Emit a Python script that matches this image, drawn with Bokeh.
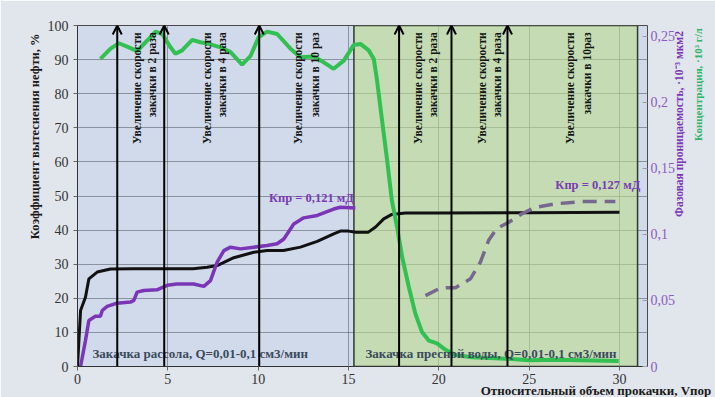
import numpy as np
from bokeh.plotting import figure
from bokeh.models import Range1d, LinearAxis, FixedTicker, Arrow, OpenHead, Title, ColumnDataSource
from bokeh.core.properties import value
from bokeh.embed import file_html
from bokeh.resources import INLINE

# ---- data ----
black_x = [0, 0.17, 0.44, 0.63, 1.09, 1.83, 3.0, 4.5, 6.4, 7.18, 7.73, 8.65, 9.76, 10.5, 11.4, 12.34,
           13.27, 14.18, 14.55, 15.0, 15.4, 16.1, 16.5, 16.95, 17.4, 18.15, 20, 25, 30]
black_y = [0, 16.4, 20.3, 25.7, 27.7, 28.6, 28.7, 28.7, 28.7, 29.1, 29.6, 31.9, 33.5, 34.0, 34.0, 35.0,
           36.7, 38.9, 39.7, 39.7, 39.4, 39.4, 40.9, 43.3, 44.6, 45.0, 45.0, 45.1, 45.2]

green_x = [1.27, 1.83, 2.29, 2.84, 3.3, 3.86, 4.32, 4.69, 5.15, 5.42, 5.79, 6.35, 6.8, 7.27, 7.91, 8.47,
           9.11, 9.57, 10.03, 10.5, 11.05, 11.79, 12.34, 13.08, 13.63, 14.18, 14.74, 15.29, 15.66, 16.12,
           16.4, 16.58, 16.86, 17.14, 17.4, 17.69, 17.97, 18.34, 18.7, 19.07, 19.44, 19.9, 20.37, 20.92,
           21.84, 23.69, 24.98, 26.45, 29.96]
green_y = [90.2, 93.2, 94.8, 93.6, 92.5, 95.6, 98.2, 97.5, 93.6, 91.7, 92.7, 95.8, 95.1, 94.6, 93.6, 92.2,
           88.5, 91.0, 96.6, 98.2, 97.5, 93.2, 90.7, 90.9, 89.2, 87.3, 89.7, 94.3, 94.6, 92.7,
           90.2, 83.9, 72.1, 60.4, 48.7, 40.9, 32.1, 23.3, 15.5, 10.1, 7.6, 6.8, 4.9, 3.4,
           2.7, 2.3, 1.8, 2.0, 1.6]

perm_x = [0.17, 0.44, 0.63, 0.99, 1.27, 1.37, 1.64, 2.19, 2.93, 3.12, 3.3, 3.67, 4.4, 4.96, 5.5, 6.43,
          6.99, 7.36, 7.73, 8.1, 8.47, 9.02, 9.76, 10.5, 11.05, 11.42, 11.97, 12.52, 13.27, 14.18, 14.55, 15.38]
perm_y = [0, 0.0196, 0.0349, 0.038, 0.038, 0.0424, 0.0455, 0.048, 0.0488, 0.0501, 0.0563, 0.0576, 0.0581,
          0.0615, 0.0625, 0.0625, 0.0607, 0.0651, 0.079, 0.0878, 0.0904, 0.0891, 0.0904, 0.0917, 0.093,
          0.0966, 0.108, 0.1126, 0.1144, 0.1193, 0.1206, 0.1201]

perm2_x = [19.26, 20.0, 20.46, 20.92, 21.75, 22.3, 22.76, 23.2, 23.87, 24.6, 25.35, 26.45, 27.93, 29.77]
perm2_y = [0.0537, 0.0589, 0.0597, 0.0597, 0.0664, 0.079, 0.0956, 0.1044, 0.1093, 0.1157, 0.1206,
           0.1232, 0.125, 0.125]

arrow_x = [2.2, 4.8, 10.06, 17.8, 20.7, 23.8]
ann_line1 = ["Увеличение скорости"] * 6
ann_line2 = ["закачки в 2 раза", "закачки в 4 раза", "закачки в 10 раз",
             "закачки в 2 раза", "закачки в 4 раза", "закачки в 10раз"]
ann_x1 = [3.32, 7.19, 12.23, 18.82, 22.41, 27.28]
ann_x2 = [4.15, 8.02, 13.17, 19.70, 23.24, 28.22]

fresh_start, fresh_end = 15.3, 31.0

x_ticks = [0, 5, 10, 15, 20, 25, 30]
y_ticks = [0, 10, 20, 30, 40, 50, 60, 70, 80, 90, 100]
r_ticks = [0, 0.05, 0.1, 0.15, 0.2, 0.25]
r_tick_labels = ["0", "0,05", "0,1", "0,15", "0,2", "0,25"]

SERIF = "Liberation Serif"
NB = "\u00a0"

p = figure(width=715, height=397, output_backend="svg", toolbar_location=None,
           x_range=Range1d(0, 31.55), y_range=Range1d(0, 100),
           min_border_left=77, min_border_right=68, min_border_top=25, min_border_bottom=31)
p.extra_y_ranges = {"perm": Range1d(0, 0.2583)}

p.background_fill_color = "#d0daea"
p.border_fill_color = "#e1e5ec"
p.outline_line_color = "#4a4a4a"
p.outline_line_width = 1

# grid
p.xgrid.ticker = FixedTicker(ticks=x_ticks)
p.ygrid.ticker = FixedTicker(ticks=y_ticks)
p.grid.grid_line_color = "#4f5860"
p.grid.grid_line_alpha = 0.55
p.grid.grid_line_width = 1

# axes
for ax in (p.xaxis[0], p.yaxis[0]):
    ax.major_label_text_font = SERIF
    ax.major_label_text_font_size = "14px"
    ax.major_label_text_color = "#333333"
    ax.axis_line_color = "#333333"
    ax.major_tick_line_color = "#666666"
    ax.major_tick_in = 0
    ax.major_tick_out = 4
    ax.minor_tick_line_color = None
p.xaxis.ticker = FixedTicker(ticks=x_ticks)
p.yaxis.ticker = FixedTicker(ticks=y_ticks)
p.xaxis.major_label_standoff = 3
p.yaxis.major_label_standoff = 5

rax = LinearAxis(y_range_name="perm", ticker=FixedTicker(ticks=r_ticks))
rax.major_label_overrides = {t: s for t, s in zip(r_ticks, r_tick_labels)}
rax.major_label_text_font = SERIF
rax.major_label_text_font_size = "14px"
rax.major_label_text_color = "#8a5cc2"
rax.axis_line_color = None
rax.major_tick_in = 5
rax.major_tick_out = 0
rax.major_tick_line_color = "#9aa0a8"
rax.minor_tick_line_color = None
rax.major_label_standoff = 3
p.add_layout(rax, "right")

# ---- axis titles ----
lt = Title(text="Коэффициент вытеснения нефти, %", align="right", offset=8,
           text_font=SERIF, text_font_style="bold", text_font_size="12.5px", text_color="#1a1a1a")
lt.standoff = 6
p.add_layout(lt, "left")


def label_axis(text, color, standoff, align, size):
    ax = LinearAxis(y_range_name="perm", ticker=FixedTicker(ticks=[]))
    ax.axis_line_color = None
    ax.major_tick_line_color = None
    ax.minor_tick_line_color = None
    ax.major_label_text_font_size = "0px"
    ax.major_label_standoff = 0
    ax.major_tick_in = 0
    ax.major_tick_out = 0
    ax.axis_label = text
    ax.axis_label_text_font = SERIF
    ax.axis_label_text_font_style = "bold"
    ax.axis_label_text_font_size = size
    ax.axis_label_text_color = color
    ax.axis_label_standoff = standoff
    try:
        ax.axis_label_orientation = np.pi / 2
    except Exception:
        pass
    try:
        ax.axis_label_align = align
    except Exception:
        pass
    return ax


# leading non-breaking spaces lift the titles to where the original has them
p.add_layout(label_axis(NB * 52 + "Фазовая проницаемость, ·10⁻³ мкм2", "#7a36b6", 0, "start", "11.5px"),
             "right")
p.add_layout(label_axis(NB * 20 + "Концентрация, ·10³  г/л", "#2fb56a", 4, "center", "11px"), "right")

bt = Title(text="Относительный  объем прокачки, Vпор", align="right", offset=-67,
           vertical_align="bottom",
           text_font=SERIF, text_font_style="bold", text_font_size="13px", text_color="#1a1a1a")
try:
    bt.standoff = -12
except Exception:
    bt.standoff = 0
p.add_layout(bt, "below")

# fresh-water region
p.quad(left=[fresh_start], right=[fresh_end], bottom=[0], top=[100],
       fill_color="#bcdc8e", fill_alpha=0.6, line_color="#2e3a2e", line_width=1.5)

# curves
p.line(black_x, black_y, line_color="#111111", line_width=3)
p.line(perm_x, perm_y, y_range_name="perm", line_color="#7a36b6", line_width=3.5)
p.line(perm2_x, perm2_y, y_range_name="perm", line_color="#76688e", line_width=3.5, line_dash="14 8")
p.line(green_x, green_y, line_color="#33c052", line_width=4)

# arrows
asrc = ColumnDataSource(dict(x=arrow_x, y0=[0] * len(arrow_x), y1=[100] * len(arrow_x)))
p.add_layout(Arrow(x_start="x", y_start="y0", x_end="x", y_end="y1", source=asrc,
                   line_color="black", line_width=2,
                   end=OpenHead(size=9, line_width=2, line_color="black")))

# rotated annotations
tf = value(SERIF)
p.text(x=ann_x1, y=[98] * 6, text=ann_line1, angle=np.pi / 2, text_align="right",
       text_baseline="middle", text_font=tf, text_font_style="bold",
       text_font_size=value("11.5px"), text_color="#151515")
p.text(x=ann_x2, y=[98] * 6, text=ann_line2, angle=np.pi / 2, text_align="right",
       text_baseline="middle", text_font=tf, text_font_style="bold",
       text_font_size=value("11.5px"), text_color="#151515")

# in-plot labels
p.text(x=[12.95, 28.8], y=[49.3, 53.1], text=["Кпр = 0,121 мД", "Кпр = 0,127 мД"],
       text_align="center", text_baseline="middle", text_font=tf, text_font_style="bold",
       text_font_size=value("12.5px"), text_color="#7a3cb4")
p.text(x=[0.83, 15.94], y=[3.8, 3.8],
       text=["Закачка  рассола, Q=0,01-0,1 см3/мин", "Закачка пресной воды, Q=0,01-0,1 см3/мин"],
       text_align="left", text_baseline="middle", text_font=tf, text_font_style="bold",
       text_font_size=value("13px"), text_color="#3b4b5c")

open("out.html", "w").write(file_html(p, INLINE))
